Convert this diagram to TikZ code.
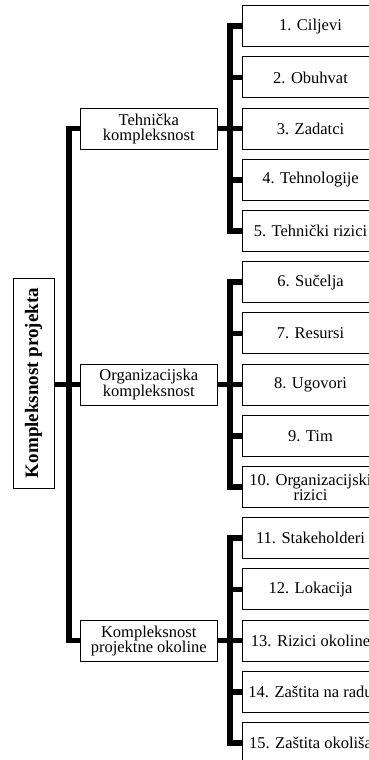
\documentclass[tikz,border=0pt]{standalone}
\usepackage{fontspec}
\setmainfont{Liberation Serif}
\begin{document}
\begin{tikzpicture}[x=1pt,y=-1pt,
  box/.style={draw=black, line width=1pt, fill=white, minimum width=137pt, minimum height=41pt,
    inner sep=1pt, align=center, font=\fontsize{16.5}{15}\selectfont},
  rootbox/.style={draw=black, line width=1pt, fill=white, minimum width=210pt, minimum height=41pt,
    inner sep=1pt, rotate=90, font=\fontsize{19}{19}\selectfont\bfseries},
  conn/.style={line width=5.5pt, line join=miter, draw=black}]
\useasboundingbox (0,0) rectangle (369,760);
\clip (0,0) rectangle (369,760);
% root
\node[rootbox] (root) at (33.5,383) {Kompleksnost projekta};
% groups
\node[box] (g1) at (148.75,128.6) {Tehnička\\kompleksnost};
\node[box] (g2) at (148.75,384.6) {Organizacijska\\kompleksnost};
\node[box] (g3) at (148.75,640.6) {Kompleksnost\\projektne okoline};
% leaves
\node[box] (l1) at (310.5,26.2) {1. Ciljevi};
\node[box] (l2) at (310.5,77.4) {2. Obuhvat};
\node[box] (l3) at (310.5,128.6) {3. Zadatci};
\node[box] (l4) at (310.5,179.8) {4. Tehnologije};
\node[box] (l5) at (310.5,231.0) {5. Tehnički rizici};
\node[box] (l6) at (310.5,282.2) {6. Sučelja};
\node[box] (l7) at (310.5,333.4) {7. Resursi};
\node[box] (l8) at (310.5,384.6) {8. Ugovori};
\node[box] (l9) at (310.5,435.8) {9. Tim};
\node[box] (l10) at (310.5,487.0) {10. Organizacijski\\rizici};
\node[box] (l11) at (310.5,538.2) {11. Stakeholderi};
\node[box] (l12) at (310.5,589.4) {12. Lokacija};
\node[box] (l13) at (310.5,640.6) {13. Rizici okoline};
\node[box] (l14) at (310.5,691.8) {14. Zaštita na radu};
\node[box] (l15) at (310.5,743.0) {15. Zaštita okoliša};
% trunk coordinates
\coordinate (rt) at (69,384.6);
\coordinate (t1) at (230,128.6);
\coordinate (t2) at (230,384.6);
\coordinate (t3) at (230,640.6);
% root connectors
\draw[conn] (g1.west) -| (rt) |- (g3.west);
\draw[conn] (root.south |- g2.west) -- (g2.west);
% group 1
\draw[conn] (g1.east) -- (t1);
\draw[conn] (l1.west) -| (t1) |- (l5.west);
\draw[conn] (l2.west) -- (l2.west -| t1);
\draw[conn] (l3.west) -- (t1);
\draw[conn] (l4.west) -- (l4.west -| t1);
% group 2
\draw[conn] (g2.east) -- (t2);
\draw[conn] (l6.west) -| (t2) |- (l10.west);
\draw[conn] (l7.west) -- (l7.west -| t2);
\draw[conn] (l8.west) -- (t2);
\draw[conn] (l9.west) -- (l9.west -| t2);
% group 3
\draw[conn] (g3.east) -- (t3);
\draw[conn] (l11.west) -| (t3) |- (l15.west);
\draw[conn] (l12.west) -- (l12.west -| t3);
\draw[conn] (l13.west) -- (t3);
\draw[conn] (l14.west) -- (l14.west -| t3);
\end{tikzpicture}
\end{document}
